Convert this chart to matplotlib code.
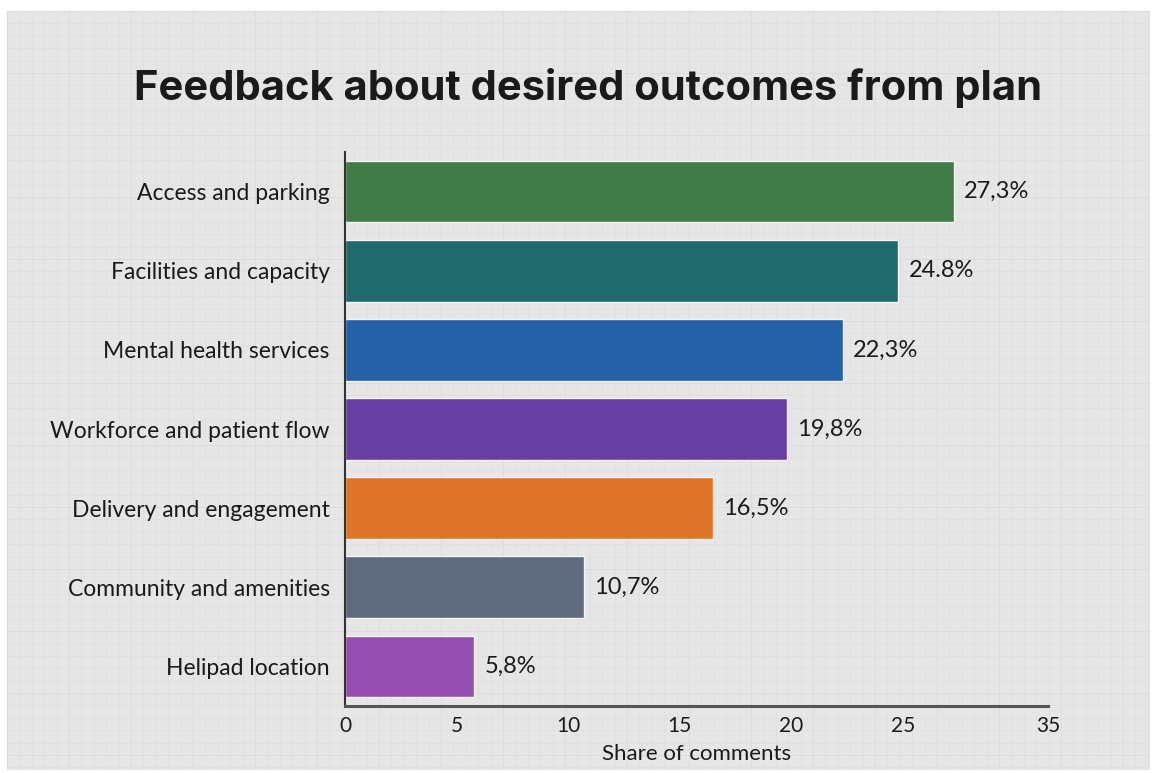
import numpy as np
import matplotlib
matplotlib.use("Agg")
import matplotlib.pyplot as plt

plt.rcParams.update({
    "font.family": ["Lato", "DejaVu Sans"],
    "figure.dpi": 100,
})

categories = [
    "Access and parking",
    "Facilities and capacity",
    "Mental health services",
    "Workforce and patient flow",
    "Delivery and engagement",
    "Community and amenities",
    "Helipad location",
]
shares = [27.3, 24.8, 22.3, 19.8, 16.5, 10.7, 5.8]
share_labels = ["27,3%", "24.8%", "22,3%", "19,8%", "16,5%", "10,7%", "5,8%"]
tick_labels = ["0", "5", "10", "15", "20", "25", "35"]

COLORS = ["#3f7a47", "#216a6b", "#2660a9", "#653fa1", "#e07428", "#5f6b7c", "#944fb0"]
INK = "#1a1a1a"
PAPER = "#e6e6e6"

fig = plt.figure(figsize=(11.54, 7.73), facecolor="white")

# graph-paper backdrop
bg = fig.add_axes([7 / 1154, 3 / 773, 1143 / 1154, 759 / 773], zorder=0)
bg.set_facecolor(PAPER)
bg.set_xlim(0, 1143); bg.set_ylim(0, 759)
step = 12.4
for i, x in enumerate(np.arange(0, 1143, step)):
    bg.axvline(x, color="#d9d9d9" if i % 5 == 0 else "#e0e0e0", lw=0.6)
for i, y in enumerate(np.arange(759, 0, -step)):
    bg.axhline(y, color="#d9d9d9" if i % 5 == 0 else "#e0e0e0", lw=0.6)
bg.set_xticks([]); bg.set_yticks([])
for s in bg.spines.values():
    s.set_visible(False)

ax = fig.add_axes([345 / 1154, 67 / 773, 703 / 1154, 554 / 773], zorder=1)
ax.patch.set_alpha(0)
y = np.arange(len(categories))
ax.barh(y, shares, height=0.78, color=COLORS, edgecolor="#f4f4f4", linewidth=1.0)
for yi, v, lab in zip(y, shares, share_labels):
    ax.text(v + 0.45, yi, lab, va="center", ha="left", fontsize=17, color=INK)

ax.set_xlim(0, 31.5)
ax.set_ylim(len(categories) - 0.5, -0.5)
ax.set_yticks(y)
ax.set_yticklabels(categories, fontsize=16.5, color=INK)
ax.set_xticks([0, 5, 10, 15, 20, 25, 31.5])
ax.set_xticklabels(tick_labels, fontsize=15, color=INK)
ax.tick_params(axis="both", length=0)
ax.tick_params(axis="y", pad=11)
ax.tick_params(axis="x", pad=7)
ax.set_xlabel("Share of comments", fontsize=16, color=INK, labelpad=6)
for s in ("top", "right"):
    ax.spines[s].set_visible(False)
ax.spines["left"].set_color("#333333"); ax.spines["left"].set_linewidth(1.5)
ax.spines["bottom"].set_color("#555555"); ax.spines["bottom"].set_linewidth(2.2)

fig.text(0.510, 0.886, "Feedback about desired outcomes from plan",
         ha="center", va="center", fontsize=30, weight="bold", color=INK,
         family=["Inter", "DejaVu Sans"])

fig.savefig("out.png", dpi=100, facecolor="white")
